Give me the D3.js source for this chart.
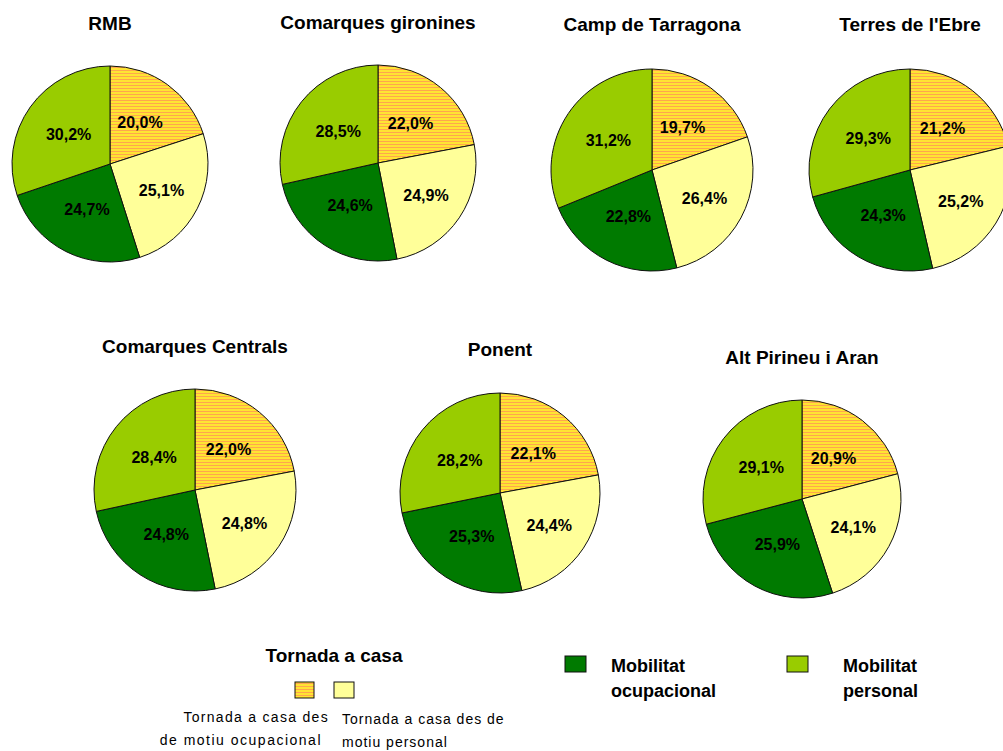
<!DOCTYPE html>
<html>
<head>
<meta charset="utf-8">
<title>Tornada a casa i mobilitat</title>
<script src="https://d3js.org/d3.v7.min.js"></script>
<style>
  body { margin: 0; background: #fff; }
  text { font-family: Arial, "Liberation Sans", sans-serif; }
</style>
</head>
<body>
<script>
// valors llegits del gràfic (%)
var regions = ["RMB", "Comarques gironines", "Camp de Tarragona", "Terres de l'Ebre",
               "Comarques Centrals", "Ponent", "Alt Pirineu i Aran"];
var tornadaOcup = [20.0, 22.0, 19.7, 21.2, 22.0, 22.1, 20.9];
var tornadaPers = [25.1, 24.9, 26.4, 25.2, 24.8, 24.4, 24.1];
var mobilOcup   = [24.7, 24.6, 22.8, 24.3, 24.8, 25.3, 25.9];
var mobilPers   = [30.2, 28.5, 31.2, 29.3, 28.4, 28.2, 29.1];
var categories  = ["Tornada a casa des de motiu ocupacional", "Tornada a casa des de motiu personal",
                   "Mobilitat ocupacional", "Mobilitat personal"];

// posició de cada pastís
var layout = [
  {cx: 110, cy: 164, r: 98,  ty: 30},
  {cx: 378, cy: 163, r: 98,  ty: 29},
  {cx: 652, cy: 170, r: 101, ty: 31},
  {cx: 910, cy: 170, r: 101, ty: 31},
  {cx: 195, cy: 490, r: 101, ty: 353},
  {cx: 500, cy: 493, r: 100, ty: 356},
  {cx: 802, cy: 499, r: 99,  ty: 364}
];
// distància relativa de l'etiqueta al centre, per porció
var labelPos = [0.52, 0.59, 0.52, 0.52];

var width = 1003, height = 751;

var svg = d3.select("body").append("svg")
    .attr("width", width)
    .attr("height", height);

var defs = svg.append("defs");
var hatch = defs.append("pattern")
    .attr("id", "hatch")
    .attr("patternUnits", "userSpaceOnUse")
    .attr("width", 6)
    .attr("height", 3);
hatch.append("rect").attr("width", 6).attr("height", 3).attr("fill", "#ffe433");
hatch.append("rect").attr("y", 2).attr("width", 6).attr("height", 1).attr("fill", "#ffa64d");

var color = d3.scaleOrdinal()
    .domain(categories)
    .range(["url(#hatch)", "#ffff99", "#007a00", "#99cc00"]);

var pie = d3.pie().sort(null).value(function(d) { return d.v; });

regions.forEach(function(name, i) {
  var L = layout[i];
  var data = [
    {k: categories[0], v: tornadaOcup[i]},
    {k: categories[1], v: tornadaPers[i]},
    {k: categories[2], v: mobilOcup[i]},
    {k: categories[3], v: mobilPers[i]}
  ];
  var arc = d3.arc().innerRadius(0).outerRadius(L.r);

  var g = svg.append("g").attr("transform", "translate(" + L.cx + "," + L.cy + ")");

  g.selectAll("path")
    .data(pie(data))
    .enter().append("path")
      .attr("d", arc)
      .attr("fill", function(d) { return color(d.data.k); })
      .attr("stroke", "#111")
      .attr("stroke-width", 1);

  g.selectAll("text")
    .data(pie(data))
    .enter().append("text")
      .attr("transform", function(d, j) {
        var rr = L.r * labelPos[j];
        var la = d3.arc().innerRadius(rr).outerRadius(rr);
        return "translate(" + la.centroid(d) + ")";
      })
      .attr("text-anchor", "middle")
      .attr("dy", "0.35em")
      .style("font-size", "16px")
      .style("font-weight", "bold")
      .text(function(d) { return d3.format(".1f")(d.data.v).replace(".", ",") + "%"; });

  svg.append("text")
    .attr("x", L.cx)
    .attr("y", L.ty)
    .attr("text-anchor", "middle")
    .style("font-size", "19px")
    .style("font-weight", "bold")
    .text(name);
});

// llegenda
var leg = svg.append("g");
leg.append("text")
  .attr("x", 334).attr("y", 662)
  .attr("text-anchor", "middle")
  .style("font-size", "19px").style("font-weight", "bold")
  .text("Tornada a casa");

leg.append("rect").attr("x", 295).attr("y", 682).attr("width", 19).attr("height", 16)
  .attr("fill", color(categories[0])).attr("stroke", "#111");
leg.append("rect").attr("x", 334).attr("y", 682).attr("width", 20).attr("height", 16)
  .attr("fill", color(categories[1])).attr("stroke", "#111");

leg.append("text").attr("x", 329).attr("y", 722).attr("text-anchor", "end")
  .style("font-size", "14px").style("letter-spacing", "1.3px")
  .text("Tornada a casa  des");
leg.append("text").attr("x", 322).attr("y", 745).attr("text-anchor", "end")
  .style("font-size", "14px").style("letter-spacing", "1.5px")
  .text("de motiu ocupacional");
leg.append("text").attr("x", 342).attr("y", 724)
  .style("font-size", "14px").style("letter-spacing", "1px")
  .text("Tornada a casa des de");
leg.append("text").attr("x", 342).attr("y", 747)
  .style("font-size", "14px").style("letter-spacing", "1px")
  .text("motiu personal");

var greens = [
  {k: categories[2], bx: 565, tx: 611, l1: "Mobilitat", l2: "ocupacional"},
  {k: categories[3], bx: 787, tx: 843, l1: "Mobilitat", l2: "personal"}
];
greens.forEach(function(d) {
  leg.append("rect").attr("x", d.bx).attr("y", 656).attr("width", 21).attr("height", 16)
    .attr("fill", color(d.k)).attr("stroke", "#111");
  leg.append("text").attr("x", d.tx).attr("y", 672)
    .style("font-size", "18px").style("font-weight", "bold").text(d.l1);
  leg.append("text").attr("x", d.tx).attr("y", 697)
    .style("font-size", "18px").style("font-weight", "bold").text(d.l2);
});
</script>
</body>
</html>
